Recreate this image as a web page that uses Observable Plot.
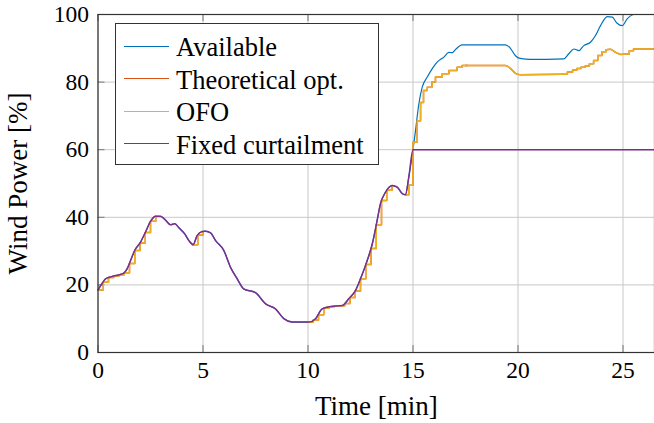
<!DOCTYPE html>
<html>
<head>
<meta charset="utf-8">
<script src="https://cdn.jsdelivr.net/npm/d3@7"></script>
<script src="https://cdn.jsdelivr.net/npm/@observablehq/plot@0.6"></script>
<style>
  body { margin: 0; background: #fff; }
  #wrap { position: relative; width: 654px; height: 423px; font-family: "Liberation Serif", "DejaVu Serif", serif; }
  #legend { position: absolute; left: 115px; top: 23px; width: 264px; height: 142px; border: 1px solid #333; background: #fff; box-sizing: border-box; padding-top: 6px; }
  .row { display: flex; align-items: center; height: 32.5px; }
  .swatch { width: 45px; height: 0; margin-left: 8px; margin-right: 7px; border-top: 1.6px solid; }
  .lab { font-size: 26.5px; line-height: 32.5px; color: #000; white-space: nowrap; position: relative; top: 1px; }
</style>
</head>
<body>
<div id="wrap"></div>
<script>
// ---- data ----
const seriesNames = ["Available", "Theoretical opt.", "OFO", "Fixed curtailment"];
const seriesColors = ["#0072BD", "#D95319", "#EDB120", "#7E2F8E"];

const xTicks = [0, 5, 10, 15, 20, 25];
const yTicks = [0, 20, 40, 60, 80, 100];

// Available wind power (smooth curve)
const availTime = [0, 0.2, 0.36, 0.67, 1.0, 1.23, 1.39, 1.55, 1.75, 2.02, 2.26, 2.5, 2.74, 2.98, 3.21, 3.45, 3.66, 3.85, 4.13, 4.33, 4.53, 4.72, 4.96, 5.12, 5.36, 5.6, 5.99, 6.31, 6.63, 6.94, 7.5, 7.98, 8.45, 8.85, 9.25, 10.04, 10.36, 10.67, 11.07, 11.63, 11.94, 12.26, 12.5, 12.82, 13.06, 13.29, 13.45, 13.69, 14.01, 14.25, 14.49, 14.64, 14.8, 15.0, 15.12, 15.28, 15.44, 15.68, 15.91, 16.15, 16.47, 16.71, 16.87, 17.02, 17.34, 19.4, 19.64, 19.88, 20.1, 20.6, 22.18, 22.42, 22.66, 22.9, 23.13, 23.45, 23.69, 23.93, 24.25, 24.49, 24.72, 24.96, 25.2, 25.52, 26.5];
const availValue = [18.5, 20.5, 21.8, 22.5, 23.0, 23.5, 24.8, 27.2, 30.2, 32.6, 35.6, 38.8, 40.3, 40.3, 39.2, 37.8, 38.1, 36.9, 35.1, 33.1, 31.9, 34.6, 35.8, 35.9, 35.4, 33.1, 30.2, 25.2, 21.8, 18.8, 17.7, 14.4, 12.9, 10.0, 9.0, 9.0, 10.0, 12.9, 13.6, 13.9, 15.9, 18.3, 21.8, 27.2, 32.1, 39.0, 44.0, 47.4, 49.4, 48.9, 47.0, 46.7, 51.9, 60.0, 65.7, 73.6, 78.5, 81.5, 83.9, 85.9, 87.4, 88.8, 88.7, 89.6, 91.0, 91.0, 90.0, 87.8, 87.0, 86.7, 86.9, 88.4, 89.8, 89.3, 90.8, 91.8, 93.8, 96.7, 99.4, 99.2, 97.4, 96.7, 98.7, 100, 100];

// Theoretical optimum / OFO: piecewise-constant set-points during rises (segment id per run)
const stepSeg   = [0, 0, 0, 0, 0, 0, 0, 0, 0, 0, 0, 0,   1, 1, 1,   2, 2, 2, 2, 2, 2, 2, 2, 2, 2, 2, 2, 2, 2, 2, 2, 2,   3, 3, 3, 3, 3, 3, 3, 3, 3, 3, 3, 3, 3, 3,   4, 4, 4, 4, 4, 4, 4, 4, 4, 4, 4,   5, 5, 5, 5];
const stepTime  = [0, 0.25, 0.5, 0.75, 1.0, 1.25, 1.5, 1.75, 2.0, 2.25, 2.5, 2.75,   4.5, 4.75, 5.0,   10.0, 10.25, 10.5, 10.75, 11.0, 11.25, 11.5, 11.75, 12.0, 12.25, 12.5, 12.75, 13.0, 13.25, 13.5, 13.75, 14.0,   14.62, 14.8, 15.0, 15.2, 15.36, 15.5, 15.68, 15.9, 16.07, 16.39, 16.71, 17.1, 17.34, 17.6,   22.1, 22.35, 22.6, 22.8, 23.0, 23.2, 23.4, 23.6, 23.8, 24.0, 24.2,   25.1, 25.3, 25.5, 26.5];
const stepValue = [18.5, 20.8, 22.2, 22.6, 23.0, 23.6, 26.3, 30.2, 32.4, 35.5, 38.8, 40.3,   31.9, 34.8, 35.8,   9.0, 9.6, 11.2, 13.1, 13.5, 13.7, 13.8, 14.5, 16.3, 18.2, 21.8, 26.0, 30.8, 37.8, 45.0, 48.0, 49.4,   46.7, 49.5, 62.2, 68.6, 74.0, 77.5, 78.5, 80.0, 81.5, 82.5, 83.4, 84.4, 84.9, 84.9,   82.3, 83.0, 83.6, 84.0, 84.4, 84.8, 85.4, 86.4, 87.9, 89.0, 89.6,   88.3, 89.3, 89.8, 89.8];

// Theoretical optimum / OFO: smooth stretches after 15 min
const smoothSeg   = [0, 0, 0, 0, 0, 0,   1, 1, 1, 1, 1];
const smoothTime  = [17.5, 19.4, 19.65, 19.88, 20.1, 22.1,   24.2, 24.4, 24.65, 24.9, 25.1];
const smoothValue = [84.9, 84.9, 84.0, 82.6, 82.2, 82.3,   89.6, 89.7, 88.8, 88.2, 88.3];

// Fixed curtailment (follows available until the 60 % cap)
const fixedTime = [0, 0.2, 0.36, 0.67, 1.0, 1.23, 1.39, 1.55, 1.75, 2.02, 2.26, 2.5, 2.74, 2.98, 3.21, 3.45, 3.66, 3.85, 4.13, 4.33, 4.53, 4.72, 4.96, 5.12, 5.36, 5.6, 5.99, 6.31, 6.63, 6.94, 7.5, 7.98, 8.45, 8.85, 9.25, 10.04, 10.36, 10.67, 11.07, 11.63, 11.94, 12.26, 12.5, 12.82, 13.06, 13.29, 13.45, 13.69, 14.01, 14.25, 14.49, 14.64, 14.8, 15.0, 26.5];
const fixedValue = [18.5, 20.5, 21.8, 22.5, 23.0, 23.5, 24.8, 27.2, 30.2, 32.6, 35.6, 38.8, 40.3, 40.3, 39.2, 37.8, 38.1, 36.9, 35.1, 33.1, 31.9, 34.6, 35.8, 35.9, 35.4, 33.1, 30.2, 25.2, 21.8, 18.8, 17.7, 14.4, 12.9, 10.0, 9.0, 9.0, 10.0, 12.9, 13.6, 13.9, 15.9, 18.3, 21.8, 27.2, 32.1, 39.0, 44.0, 47.4, 49.4, 48.9, 47.0, 46.7, 51.9, 60.0, 60.0];

const avail = availTime.map((t, i) => ({t, v: availValue[i]}));
const steps = stepTime.map((t, i) => ({t, v: stepValue[i], s: stepSeg[i]}));
const smooth = smoothTime.map((t, i) => ({t, v: smoothValue[i], s: smoothSeg[i]}));
const fixed = fixedTime.map((t, i) => ({t, v: fixedValue[i]}));

const W = 654, H = 423, mL = 97.5, mR = 0, mT = 14, mB = 71;
const innerW = W - mL - mR, innerH = H - mT - mB;
const tickLen = 7;

const chart = Plot.plot({
  width: W, height: H,
  marginLeft: mL, marginRight: mR, marginTop: mT, marginBottom: mB,
  style: {fontFamily: "Liberation Serif, DejaVu Serif, serif", fontSize: "23.5px", color: "#000", background: "#fff"},
  x: {domain: [0, 26.5]},
  y: {domain: [0, 100]},
  marks: [
    Plot.gridX(xTicks, {stroke: "#c8c8c8", strokeOpacity: 1, strokeWidth: 1}),
    Plot.gridY(yTicks, {stroke: "#c8c8c8", strokeOpacity: 1, strokeWidth: 1}),
    Plot.tickX(xTicks, {x: d => d, insetTop: innerH - tickLen, stroke: "#777", strokeWidth: 1}),
    Plot.tickX(xTicks, {x: d => d, insetBottom: innerH - tickLen, stroke: "#777", strokeWidth: 1}),
    Plot.tickY(yTicks, {y: d => d, insetRight: innerW - tickLen, stroke: "#777", strokeWidth: 1}),
    Plot.axisX({ticks: xTicks, tickSize: 0, tickPadding: 9, fontSize: 23.5, label: null, tickFormat: d => d}),
    Plot.axisY({ticks: yTicks, tickSize: 0, tickPadding: 9, fontSize: 23.5, label: null, tickFormat: d => d}),
    Plot.line(avail, {x: "t", y: "v", stroke: seriesColors[0], strokeWidth: 1.2, curve: "monotone-x"}),
    Plot.line(steps, {x: "t", y: "v", z: "s", stroke: seriesColors[1], strokeWidth: 1.5, curve: "step-after"}),
    Plot.line(smooth, {x: "t", y: "v", z: "s", stroke: seriesColors[1], strokeWidth: 1.5, curve: "monotone-x"}),
    Plot.line(steps, {x: "t", y: "v", z: "s", stroke: seriesColors[2], strokeWidth: 1.5, curve: "step-after"}),
    Plot.line(smooth, {x: "t", y: "v", z: "s", stroke: seriesColors[2], strokeWidth: 1.5, curve: "monotone-x"}),
    Plot.line(fixed, {x: "t", y: "v", stroke: seriesColors[3], strokeWidth: 1.5, curve: "monotone-x"}),
    Plot.frame({stroke: "#333", strokeWidth: 1.2}),
    Plot.text(["Time [min]"], {frameAnchor: "bottom", dy: 62, fontSize: 27, text: d => d}),
    Plot.text(["Wind Power [%]"], {frameAnchor: "left", textAnchor: "middle", dx: -80, rotate: -90, fontSize: 27, text: d => d})
  ]
});

const wrap = document.getElementById("wrap");
wrap.appendChild(chart);

const legend = document.createElement("div");
legend.id = "legend";
seriesNames.forEach((name, i) => {
  const row = document.createElement("div");
  row.className = "row";
  const sw = document.createElement("div");
  sw.className = "swatch";
  sw.style.borderTopColor = seriesColors[i];
  const lab = document.createElement("span");
  lab.className = "lab";
  lab.textContent = name;
  row.appendChild(sw);
  row.appendChild(lab);
  legend.appendChild(row);
});
wrap.appendChild(legend);
</script>
</body>
</html>
